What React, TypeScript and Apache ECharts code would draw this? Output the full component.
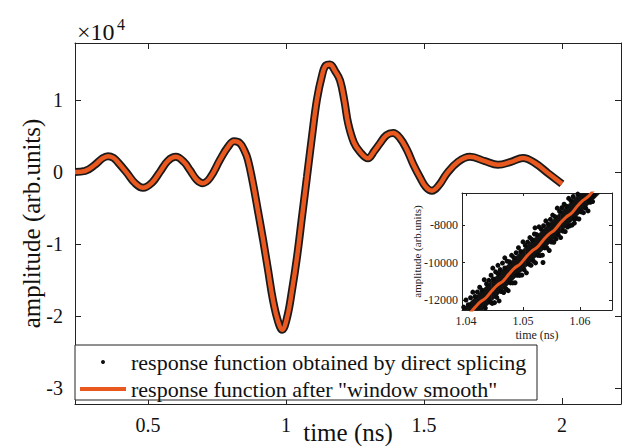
import React, { useEffect, useRef } from "react";
import * as echarts from "echarts";

const DOTS = "response function obtained by direct splicing";
const SMOOTH = 'response function after "window smooth"';
const FONT = "'Liberation Serif', 'Times New Roman', serif";
const ORANGE = "#E8581F";

// main curve (time in ns, amplitude in arb. units)
const mainT = [
  0.2355, 0.272, 0.308, 0.335, 0.355, 0.375, 0.391, 0.424, 0.453, 0.482, 0.514, 0.543,
  0.572, 0.601, 0.63, 0.652, 0.677, 0.699, 0.725, 0.761, 0.79, 0.812, 0.833, 0.849,
  0.862, 0.88, 0.898, 0.917, 0.935, 0.953, 0.971, 0.986, 1.004, 1.022, 1.04, 1.058,
  1.076, 1.094, 1.112, 1.13, 1.145, 1.159, 1.178, 1.196, 1.212, 1.225, 1.246, 1.268,
  1.297, 1.32, 1.341, 1.364, 1.388, 1.413, 1.438, 1.462, 1.485, 1.507, 1.529, 1.555,
  1.583, 1.623, 1.667, 1.721, 1.768, 1.815, 1.859, 1.902, 1.949, 2.0,
];
const mainV = [
  0, 140, 1000, 1900, 2200, 1950, 1350, -150, -1550, -2200, -1500, 0,
  1550, 2100, 1400, 250, -1100, -1550, -800, 1700, 3500, 4250, 4000, 3000,
  1700, -1500, -5300, -9400, -13600, -17800, -20700, -21900, -20200, -16400, -11800, -6250,
  -700, 4850, 10000, 13300, 14800, 14900, 14000, 12700, 9800, 6800, 4100, 2800,
  1900, 2900, 4000, 5100, 5400, 4700, 3100, 1000, -700, -2100, -2600, -1800,
  -200, 1400, 2100, 1500, 1000, 1400, 1950, 1250, -150, -1650,
];

// inset: smoothed curve
const insetT = [
  1.0385, 1.0395, 1.0405, 1.0415, 1.0425, 1.0435, 1.0445, 1.0455, 1.0465, 1.0475, 1.0485, 1.0495,
  1.0505, 1.0515, 1.0525, 1.0535, 1.0545, 1.0555, 1.0565, 1.0575, 1.0585, 1.0595, 1.0605,
  1.0615, 1.0625, 1.0635,
];
const insetV = [
  -13330, -13050, -12760, -12420, -12100, -11880, -11520, -11200, -10990, -10630, -10300, -10080,
  -9720, -9400, -9180, -8820, -8500, -8270, -7910, -7590, -7370, -7000, -6690,
  -6460, -6100, -5820,
];

// inset: dense core of the dot cloud (lower and upper edge)
const bandT = [1.0385, 1.0445, 1.0505, 1.0565, 1.0625, 1.0665];
const bandLowV = [-13883, -12065, -10247, -8429, -6611, -5399];
const bandHighV = [-12783, -10965, -9147, -7329, -5511, -4299];

// inset: raw dots
const dotT = [
  1.0396, 1.0398, 1.04, 1.0402, 1.0404, 1.0406, 1.0408, 1.041, 1.0412, 1.0414, 1.0416,
  1.0418, 1.042, 1.0422, 1.0424, 1.0426, 1.0428, 1.043, 1.0432, 1.0434, 1.0436, 1.0438,
  1.044, 1.0442, 1.0444, 1.0446, 1.0448, 1.045, 1.0452, 1.0454, 1.0456, 1.0458, 1.046,
  1.0462, 1.0464, 1.0466, 1.0468, 1.047, 1.0472, 1.0474, 1.0476, 1.0478, 1.048, 1.0482,
  1.0484, 1.0486, 1.0488, 1.049, 1.0492, 1.0494, 1.0496, 1.0498, 1.05, 1.0502, 1.0504,
  1.0506, 1.0508, 1.051, 1.0512, 1.0514, 1.0516, 1.0518, 1.052, 1.0522, 1.0524, 1.0526,
  1.0528, 1.053, 1.0532, 1.0534, 1.0536, 1.0538, 1.054, 1.0542, 1.0544, 1.0546, 1.0548,
  1.055, 1.0552, 1.0554, 1.0556, 1.0558, 1.056, 1.0562, 1.0564, 1.0566, 1.0568, 1.057,
  1.0572, 1.0574, 1.0576, 1.0578, 1.058, 1.0582, 1.0584, 1.0586, 1.0588, 1.059, 1.0594,
  1.0596, 1.0598, 1.0602, 1.0606, 1.061, 1.0614, 1.0616, 1.0618, 1.062, 1.0622, 1.0624,
  1.0468, 1.0535, 1.0447, 1.059, 1.0456, 1.0521,
];
const dotV = [
  -12380, -13480, -12000, -13520, -12250, -13520, -11880, -13140, -11580, -13100, -11810,
  -13230, -11570, -12730, -11320, -12850, -11470, -12580, -10920, -12430, -11140, -12580,
  -10950, -12110, -10680, -12180, -10880, -12140, -10500, -11860, -10580, -12050, -10380,
  -11550, -10030, -11600, -10290, -11400, -9930, -11500, -9960, -11090, -9620, -11090,
  -9740, -11080, -9480, -10680, -9210, -10690, -9410, -10670, -8900, -10390, -9090,
  -10550, -8910, -10090, -8670, -10150, -8780, -9920, -8480, -10020, -8510, -9620,
  -8100, -9630, -8230, -9610, -8040, -9220, -7780, -9220, -7950, -9360, -7700,
  -8910, -7470, -8920, -7550, -8740, -7100, -8530, -7270, -8670, -7080, -8330,
  -6890, -8350, -7000, -8110, -6580, -8040, -6700, -8000, -6480, -7680, -7650,
  -6350, -7680, -7300, -7340, -7100, -7250, -6630, -6790, -6460, -6750, -6440,
  -9750, -10000, -10300, -7900, -10150, -8150,
];

const mainXRange = { min: 0.2355, max: 2.214 };
const mainYRange = { min: -32200, max: 17900 };
const insetXRange = { min: 1.0393, max: 1.0656 };
const insetYRange = { min: -12533, max: -6293 };

const pairs = (xs: number[], ys: number[]) => xs.map((x, i) => [x, ys[i]]);

export default function App() {
  const ref = useRef<HTMLDivElement>(null);
  useEffect(() => {
    if (!ref.current) return;
    const chart = echarts.init(ref.current, undefined, { renderer: "svg" });
    const axisLine = { show: true, onZero: false, lineStyle: { color: "#222", width: 1 } };
    const mainTick = { show: true, inside: true, length: 6, lineStyle: { color: "#222" } };
    const insetTick = { show: true, inside: true, length: 3, lineStyle: { color: "#222" } };
    const hidden = { show: false };
    const bandData = bandT.map((t, i) => [t, bandLowV[i], bandHighV[i]]);
    chart.setOption({
      animation: false,
      backgroundColor: "#fff",
      grid: [
        { left: 75, top: 43, width: 546, height: 361, show: false, containLabel: false, outerBoundsMode: "none" },
        { left: 462, top: 193, width: 150, height: 117, show: true, backgroundColor: "#fff", borderWidth: 0, containLabel: false, outerBoundsMode: "none" },
      ],
      xAxis: [
        {
          type: "value", gridIndex: 0, ...mainXRange, splitNumber: 4, position: "bottom",
          axisLine, axisTick: mainTick, splitLine: hidden,
          axisLabel: { fontFamily: FONT, fontSize: 20, color: "#111", margin: 11, showMinLabel: false, showMaxLabel: false },
          name: "time (ns)", nameLocation: "middle", nameGap: 16, nameMoveOverlap: false,
          nameTextStyle: { fontFamily: FONT, fontSize: 25, color: "#111" },
        },
        {
          type: "value", gridIndex: 0, ...mainXRange, splitNumber: 4, position: "top",
          axisLine, axisTick: mainTick, splitLine: hidden, axisLabel: hidden,
        },
        {
          type: "value", gridIndex: 1, ...insetXRange, splitNumber: 3, position: "bottom",
          axisLine, axisTick: insetTick, splitLine: hidden,
          axisLabel: { fontFamily: FONT, fontSize: 12, color: "#222", margin: 5, showMinLabel: false, showMaxLabel: false, formatter: (v: number) => v.toFixed(2) },
          name: "time (ns)", nameLocation: "middle", nameGap: 19, nameMoveOverlap: false,
          nameTextStyle: { fontFamily: FONT, fontSize: 12, color: "#222" },
        },
        {
          type: "value", gridIndex: 1, ...insetXRange, splitNumber: 3, position: "top",
          axisLine, axisTick: insetTick, splitLine: hidden, axisLabel: hidden,
        },
      ],
      yAxis: [
        {
          type: "value", gridIndex: 0, ...mainYRange, splitNumber: 5, position: "left",
          axisLine, axisTick: mainTick, splitLine: hidden,
          axisLabel: { fontFamily: FONT, fontSize: 20, color: "#111", margin: 12, showMinLabel: false, showMaxLabel: false, formatter: (v: number) => String(Math.round(v / 10000)) },
          name: "amplitude (arb.units)", nameLocation: "middle", nameGap: 31, nameMoveOverlap: false,
          nameTextStyle: { fontFamily: FONT, fontSize: 25, color: "#111" },
        },
        {
          type: "value", gridIndex: 0, ...mainYRange, splitNumber: 5, position: "right",
          axisLine, axisTick: mainTick, splitLine: hidden, axisLabel: hidden,
        },
        {
          type: "value", gridIndex: 1, ...insetYRange, splitNumber: 3, position: "left",
          axisLine, axisTick: insetTick, splitLine: hidden,
          axisLabel: { fontFamily: FONT, fontSize: 12, color: "#222", margin: 4, showMinLabel: false, showMaxLabel: false, formatter: (v: number) => String(v) },
          name: "amplitude (arb.units)", nameLocation: "middle", nameGap: 40, nameMoveOverlap: false,
          nameTextStyle: { fontFamily: FONT, fontSize: 11, color: "#222" },
        },
        {
          type: "value", gridIndex: 1, ...insetYRange, splitNumber: 3, position: "right",
          axisLine, axisTick: insetTick, splitLine: hidden, axisLabel: hidden,
        },
      ],
      legend: {
        data: [
          { name: DOTS, icon: "circle" },
          { name: SMOOTH, icon: "rect" },
        ],
        orient: "vertical", left: 80, top: 351, padding: 0,
        itemWidth: 46, itemHeight: 4, itemGap: 5,
        itemStyle: { borderWidth: 0 },
        textStyle: { fontFamily: FONT, fontSize: 22, color: "#111", lineHeight: 22 },
        selectedMode: false, z: 10,
      },
      graphic: [
        {
          type: "rect", z: 5,
          shape: { x: 75, y: 345, width: 462, height: 55 },
          style: { fill: "#fff", stroke: "#222", lineWidth: 1 },
        },
        {
          type: "text", x: 77, y: 32, z: 5,
          style: { text: "×10", fontFamily: FONT, fontSize: 24, fill: "#111", verticalAlign: "middle" },
        },
        {
          type: "text", x: 117, y: 24, z: 5,
          style: { text: "4", fontFamily: FONT, fontSize: 16, fill: "#111", verticalAlign: "middle" },
        },
      ],
      series: [
        {
          name: DOTS, type: "line", xAxisIndex: 0, yAxisIndex: 0, data: pairs(mainT, mainV),
          showSymbol: false, smooth: 0.4, color: "#111",
          lineStyle: { color: "#1a1a1a", width: 8 },
        },
        {
          name: SMOOTH, type: "line", xAxisIndex: 0, yAxisIndex: 0, data: pairs(mainT, mainV),
          showSymbol: false, smooth: 0.4, color: ORANGE,
          lineStyle: { color: ORANGE, width: 4.5 },
        },
        {
          name: DOTS, type: "custom", xAxisIndex: 2, yAxisIndex: 2, data: bandData,
          encode: { x: 0, y: [1, 2] }, clip: true, color: "#111",
          renderItem: (params: any, api: any) => {
            const i = params.dataIndex;
            if (i >= bandData.length - 1) return null;
            const a = bandData[i];
            const b = bandData[i + 1];
            const pts = [
              api.coord([a[0], a[1]]),
              api.coord([b[0], b[1]]),
              api.coord([b[0], b[2]]),
              api.coord([a[0], a[2]]),
            ];
            return { type: "polygon", shape: { points: pts }, style: { fill: "#111", stroke: "#111", lineWidth: 0.5 } };
          },
        },
        {
          name: DOTS, type: "scatter", xAxisIndex: 2, yAxisIndex: 2, data: pairs(dotT, dotV),
          symbolSize: 5, itemStyle: { color: "#0a0a0a", opacity: 1 },
        },
        {
          name: SMOOTH, type: "line", xAxisIndex: 2, yAxisIndex: 2, data: pairs(insetT, insetV),
          showSymbol: false, smooth: 0.4, color: ORANGE,
          lineStyle: { color: ORANGE, width: 3 },
        },
      ],
    });
    return () => chart.dispose();
  }, []);
  return (
    <div
      ref={ref}
      style={{ position: "fixed", left: 0, top: 0, width: 623, height: 446, background: "#fff" }}
    />
  );
}
